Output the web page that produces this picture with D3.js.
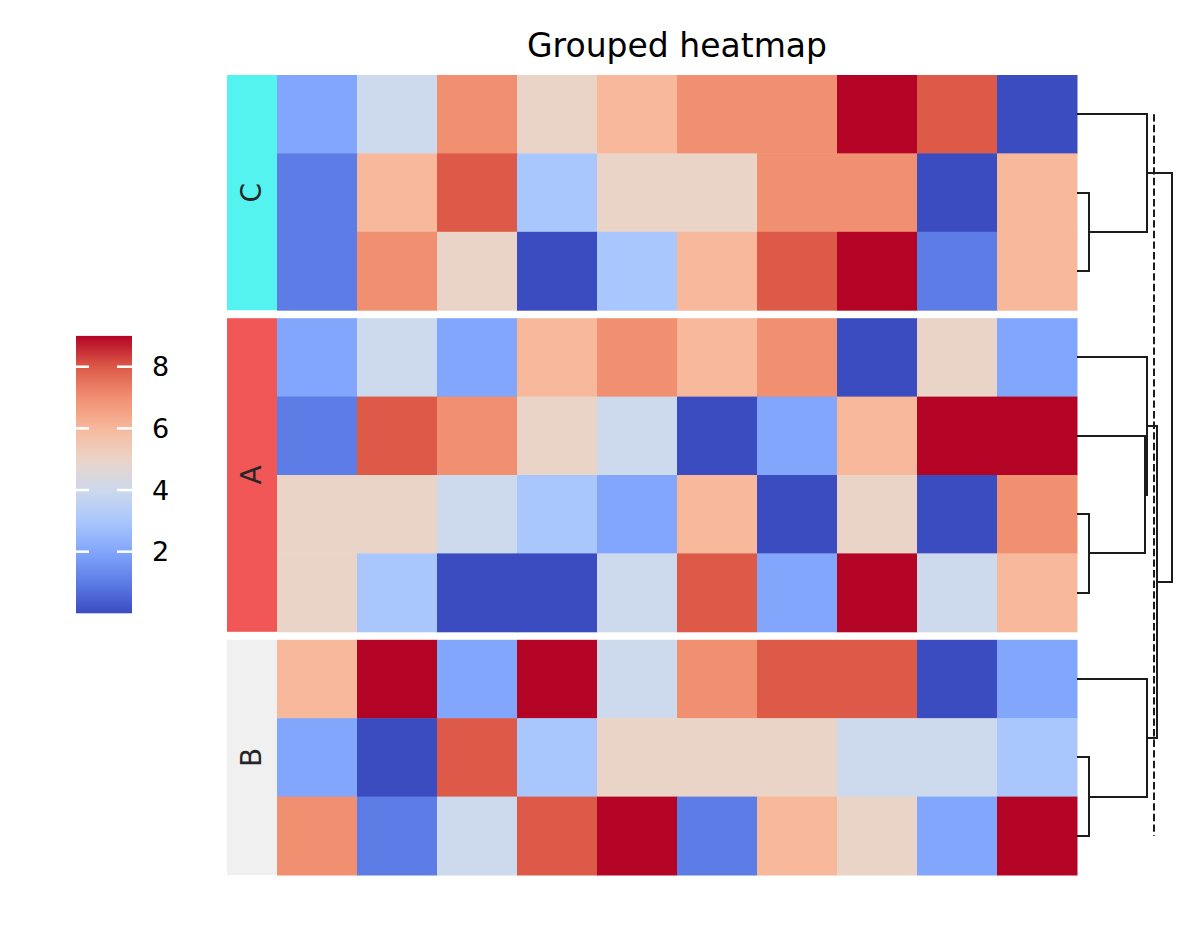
<!DOCTYPE html>
<html>
<head>
<meta charset="utf-8">
<script src="https://cdn.jsdelivr.net/npm/d3@7/dist/d3.min.js"></script>
<style>
  html, body { margin: 0; padding: 0; background: #fff; }
  svg { display: block; font-family: "DejaVu Sans", sans-serif; }
</style>
</head>
<body>
<svg id="chart" width="1196" height="940"></svg>
<script>
// ---------------- data ----------------
const title = "Grouped heatmap";
const columns = ["0","1","2","3","4","5","6","7","8","9"];
const groupNames = ["C", "A", "B"];
const valuesC = [
  [2, 4, 7, 5, 6, 7, 7, 9, 8, 0],
  [1, 6, 8, 3, 5, 5, 7, 7, 0, 6],
  [1, 7, 5, 0, 3, 6, 8, 9, 1, 6]
];
const valuesA = [
  [2, 4, 2, 6, 7, 6, 7, 0, 5, 2],
  [1, 8, 7, 5, 4, 0, 2, 6, 9, 9],
  [5, 5, 4, 3, 2, 6, 0, 5, 0, 7],
  [5, 3, 0, 0, 4, 8, 2, 9, 4, 6]
];
const valuesB = [
  [6, 9, 2, 9, 4, 7, 8, 8, 0, 2],
  [2, 0, 8, 3, 5, 5, 5, 4, 4, 3],
  [7, 1, 4, 8, 9, 1, 6, 5, 2, 9]
];
// within-group linkage: [childA, childB, height] (scipy-style indices)
const linkC = [[1, 2, 0.126], [0, 3, 0.74]];
const linkA = [[2, 3, 0.126], [1, 4, 0.716], [0, 5, 0.737]];
const linkB = [[1, 2, 0.126], [0, 3, 0.737]];
// group-level linkage on groups (0=C,1=A,2=B)
const linkGroups = [[1, 2, 0.842], [0, 3, 1.0]];
const cutHeight = 0.807;
const colorbarTicks = [2, 4, 6, 8];
const valueDomain = [0, 9];

// ---------------- styles ----------------
const groupColors = { C: "#55f3ef", A: "#f25757", B: "#f0f0f0" };
// coolwarm colormap samples at values 0..9
const coolwarmStops = ["#3b4cc0", "#5d7ce6", "#82a6fb", "#aac7fd", "#cdd9ec",
                       "#ead4c8", "#f7b89c", "#f18f71", "#dc5a47", "#b40426"];

const svg = d3.select("#chart");
const groupValues = [valuesC, valuesA, valuesB];
const groupLinks = [linkC, linkA, linkB];

const heatLeft = 277, heatRight = 1077, heatTop = 75, heatBottom = 875;
const gap = 8;
const nRows = d3.sum(groupValues, g => g.length);
const rowH = (heatBottom - heatTop - gap * (groupValues.length - 1)) / nRows;

const color = d3.scaleLinear()
  .domain(d3.range(coolwarmStops.length).map(i => valueDomain[0] + i * (valueDomain[1] - valueDomain[0]) / (coolwarmStops.length - 1)))
  .range(coolwarmStops)
  .interpolate(d3.interpolateRgb);

const x = d3.scaleBand().domain(columns).range([heatLeft, heatRight]);
const dx = d3.scaleLinear().domain([0, 1]).range([heatRight, 1172]);
const r = v => Math.round(v);

// group y-scales
let yStart = heatTop;
const groupScales = groupValues.map((g, gi) => {
  const s = d3.scaleBand().domain(d3.range(g.length)).range([yStart, yStart + g.length * rowH]);
  yStart += g.length * rowH + gap;
  return s;
});

// heatmap cells
groupValues.forEach((g, gi) => {
  const y = groupScales[gi];
  const gsel = svg.append("g");
  g.forEach((row, ri) => {
    gsel.selectAll(null).data(row).enter().append("rect")
      .attr("x", (d, ci) => x(columns[ci]))
      .attr("y", y(ri))
      .attr("width", x.bandwidth() + 0.5)
      .attr("height", y.bandwidth() + 0.5)
      .attr("fill", d => color(d));
  });
  // group strip
  const [y0, y1] = y.range();
  svg.append("rect")
    .attr("x", 227).attr("y", y0)
    .attr("width", heatLeft - 227).attr("height", y1 - y0)
    .attr("fill", groupColors[groupNames[gi]]);
  svg.append("text")
    .attr("transform", `translate(261,${(y0 + y1) / 2}) rotate(-90)`)
    .attr("text-anchor", "middle")
    .attr("font-size", 28)
    .attr("fill", "#262626")
    .text(groupNames[gi]);
});

// dendrograms
const lineColor = "#1c1c1c";
const dg = svg.append("g").attr("fill", "none").attr("stroke", lineColor).attr("stroke-width", 2);
function drawLinks(links, leafPos, leafH) {
  const pos = leafPos.slice();
  const hts = leafH.slice();
  links.forEach(([a, b, h]) => {
    const ya = pos[a], yb = pos[b];
    dg.append("path")
      .attr("d", `M${r(dx(hts[a]))},${r(ya)}H${r(dx(h))}V${r(yb)}H${r(dx(hts[b]))}`);
    pos.push((ya + yb) / 2);
    hts.push(h);
  });
  return { y: pos[pos.length - 1], h: hts[hts.length - 1] };
}
const tops = groupValues.map((g, gi) => {
  const y = groupScales[gi];
  const leafPos = d3.range(g.length).map(i => y(i) + y.bandwidth() / 2);
  return drawLinks(groupLinks[gi], leafPos, leafPos.map(() => 0));
});
drawLinks(linkGroups, tops.map(t => t.y), tops.map(t => t.h));

// cut line
const firstLeaf = groupScales[0](0) + groupScales[0].bandwidth() / 2;
const lastS = groupScales[groupScales.length - 1];
const lastLeaf = lastS(lastS.domain().length - 1) + lastS.bandwidth() / 2;
svg.append("line")
  .attr("x1", r(dx(cutHeight))).attr("x2", r(dx(cutHeight)))
  .attr("y1", firstLeaf).attr("y2", lastLeaf)
  .attr("stroke", lineColor).attr("stroke-width", 2)
  .attr("stroke-dasharray", "7.4,3.2");

// colorbar
const cbX = 76, cbW = 56;
const cbY = d3.scaleLinear().domain(valueDomain).range([613.3, 335.9]);
const defs = svg.append("defs");
const grad = defs.append("linearGradient").attr("id", "cbgrad")
  .attr("x1", 0).attr("y1", 1).attr("x2", 0).attr("y2", 0);
d3.range(0, 1.0001, 0.02).forEach(t => {
  const v = valueDomain[0] + t * (valueDomain[1] - valueDomain[0]);
  grad.append("stop").attr("offset", t).attr("stop-color", color(v));
});
svg.append("rect")
  .attr("x", cbX).attr("y", cbY(valueDomain[1]))
  .attr("width", cbW).attr("height", cbY(valueDomain[0]) - cbY(valueDomain[1]))
  .attr("fill", "url(#cbgrad)");
const tg = svg.append("g");
colorbarTicks.forEach(t => {
  const ty = cbY(t);
  tg.append("line").attr("x1", cbX).attr("x2", cbX + 13).attr("y1", ty).attr("y2", ty)
    .attr("stroke", "#fff").attr("stroke-width", 2.5);
  tg.append("line").attr("x1", cbX + cbW - 15).attr("x2", cbX + cbW).attr("y1", ty).attr("y2", ty)
    .attr("stroke", "#fff").attr("stroke-width", 2.5);
  tg.append("text")
    .attr("x", 152).attr("y", ty)
    .attr("dy", "0.36em")
    .attr("font-size", 27)
    .attr("fill", "#000")
    .text(t);
});

// title
svg.append("text")
  .attr("x", 677).attr("y", 57)
  .attr("text-anchor", "middle")
  .attr("font-size", 33)
  .attr("fill", "#000")
  .text(title);
</script>
</body>
</html>
